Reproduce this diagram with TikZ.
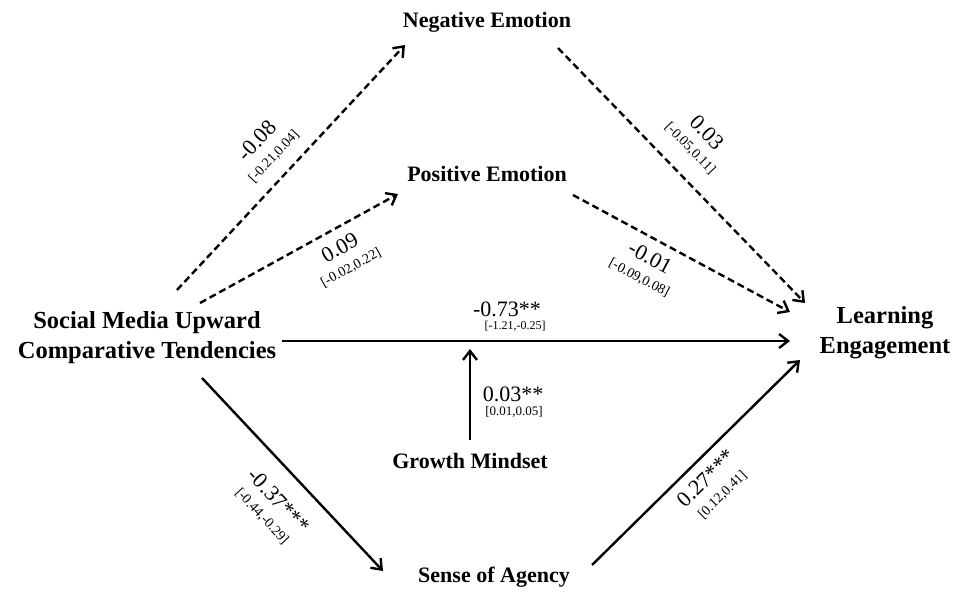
\documentclass[tikz,border=0pt]{standalone}
\usepackage{fontspec}
\setmainfont{Liberation Serif}
\usetikzlibrary{arrows.meta}
\begin{document}
\begin{tikzpicture}[x=1pt,y=-1pt,
  var/.style={font=\bfseries\fontsize{22}{26}\selectfont, inner sep=0pt, align=center},
  bigvar/.style={font=\bfseries\fontsize{24.5}{30}\selectfont, inner sep=0pt, align=center},
  coef/.style={font=\fontsize{22}{22}\selectfont, inner sep=0pt},
  ci/.style={font=\fontsize{13}{13}\selectfont, inner sep=0pt},
  lab/.style={inner sep=0pt, align=center, font=\fontsize{22}{16}\selectfont},
  path/.style={line width=2.4pt, -{Straight Barb[length=9pt,width=14pt,line width=2.4pt]}},
  dpath/.style={path, dash pattern=on 7pt off 4pt}
]
\useasboundingbox (0,0) rectangle (955,592);
\fill[white] (0,0) rectangle (955,592);

\node[bigvar] (sm) at (147,338) {Social Media Upward\\Comparative Tendencies};
\node[bigvar] (le) at (885,333) {Learning\\Engagement};
\node[var] (neg) at (487,22) {Negative Emotion};
\node[var] (pos) at (487,174) {Positive Emotion};
\node[var] (gm) at (470,461) {Growth Mindset};
\node[var] (soa) at (494,577) {Sense of Agency};

\coordinate (smA) at (177,290);
\coordinate (negA) at (405,45);
\coordinate (smB) at (200,303);
\coordinate (posB) at (398,194);
\coordinate (negC) at (558,48);
\coordinate (leC) at (805,303);
\coordinate (posD) at (573,195);
\coordinate (leD) at (790,312);
\coordinate (smE) at (282,341);
\coordinate (leE) at (790,341);
\coordinate (gmF) at (470,440);
\coordinate (lineF) at (470,349);
\coordinate (smG) at (202,378);
\coordinate (soaG) at (383,571);
\coordinate (soaH) at (592,565);
\coordinate (leH) at (800,360);

\draw[dpath] (smA) -- (negA);
\draw[dpath] (smB) -- (posB);
\draw[dpath] (negC) -- (leC);
\draw[dpath] (posD) -- (leD);
\draw[path] (smE) -- (leE);
\draw[path] (gmF) -- (lineF);
\draw[path] (smG) -- (soaG);
\draw[path] (soaH) -- (leH);

\node[lab, rotate=47] (l1) at (265,148) {-0.08\\[4pt]{\fontsize{14}{14}\selectfont [-0.21,0.04]}};
\node[lab, rotate=29] (l2) at (345,257) {0.09\\[4pt]{\fontsize{14}{14}\selectfont [-0.02,0.22]}};
\node[lab, rotate=-46] (l3) at (699,140) {0.03\\[4pt]{\fontsize{14}{14}\selectfont [-0.05,0.11]}};
\node[lab, rotate=-28] (l4) at (645,267) {-0.01\\[4pt]{\fontsize{14}{14}\selectfont [-0.09,0.08]}};
\node[lab, rotate=-47] (l7) at (271,508) {-0.37***\\[4pt]{\fontsize{14}{14}\selectfont [-0.44,-0.29]}};
\node[lab, rotate=44.6] (l8) at (714,486) {0.27***\\[4pt]{\fontsize{14}{14}\selectfont [0.12,0.41]}};

\node[coef] (l5) at (507,309) {-0.73**};
\node[ci, font=\fontsize{12}{12}\selectfont] (l5b) at (515,326) {[-1.21,-0.25]};
\node[coef] (l6) at (513,394) {0.03**};
\node[ci] (l6b) at (514,412) {[0.01,0.05]};
\end{tikzpicture}
\end{document}
